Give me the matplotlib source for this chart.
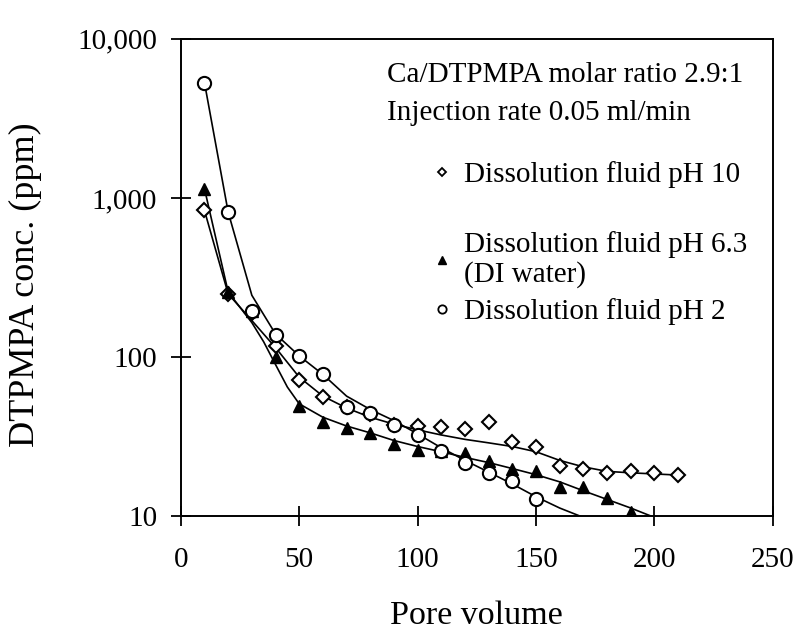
import matplotlib
matplotlib.use('Agg')
import matplotlib.pyplot as plt
from matplotlib.lines import Line2D

plt.rcParams['font.family'] = ['Liberation Serif', 'DejaVu Serif']

# measured points
x_ph10 = [10, 20, 30, 40, 50, 60, 70, 80, 90, 100, 110, 120, 130, 140, 150, 160, 170, 180, 190, 200, 210]
y_ph10 = [835, 250, 190, 117, 72, 56, 49, 44, 37.5, 36.8, 36.5, 35.5, 39, 29.2, 27.5, 20.8, 19.8, 18.7, 19.4, 18.7, 18.1]

x_ph63 = [10, 20, 30, 40, 50, 60, 70, 80, 90, 100, 110, 120, 130, 140, 150, 160, 170, 180, 190]
y_ph63 = [1145, 257, 195, 100, 49.3, 39, 36, 33.5, 28.7, 26, 25.6, 25, 22.2, 19.8, 19.2, 15.4, 15.4, 13, 10.7]

x_ph2 = [10, 20, 30, 40, 50, 60, 70, 80, 90, 100, 110, 120, 130, 140, 150]
y_ph2 = [5300, 816, 195, 137, 102, 78, 49, 44.7, 37.4, 32.6, 25.6, 21.6, 18.7, 16.6, 12.8]

# fitted curves
fit_x_ph10 = [10, 20, 30, 40, 50, 60, 70, 80, 90, 100, 110, 120, 130, 140, 150, 160, 170, 180, 190, 200, 210]
fit_y_ph10 = [835, 250, 170, 115, 75, 57, 48, 42, 38, 35, 32.5, 30.5, 29, 27.5, 25.5, 22.5, 20.5, 19.2, 18.8, 18.5, 18.2]

fit_x_ph63 = [10, 20, 30, 35, 40, 45, 50, 60, 70, 80, 90, 100, 110, 120, 130, 140, 150, 160, 170, 180, 190, 199]
fit_y_ph63 = [1145, 257, 165, 125, 90, 65, 51, 42, 37, 33.5, 30, 27.5, 25.5, 23.5, 21.8, 20, 18.3, 16.5, 14.5, 12.8, 11.3, 10]

fit_x_ph2 = [10, 20, 30, 40, 50, 60, 70, 80, 90, 100, 110, 120, 130, 140, 150, 160, 169]
fit_y_ph2 = [5300, 816, 245, 140, 102, 78, 57, 47, 40, 33, 27, 22.5, 19, 16, 13.3, 11.3, 10]

y_ticks = [10, 100, 1000, 10000]
y_tick_labels = ['10', '100', '1,000', '10,000']
x_ticks = [0, 50, 100, 150, 200, 250]

fig = plt.figure(figsize=(8, 6.31), dpi=100)
ax = fig.add_axes([0.226, 0.1815, 0.74, 0.757])

lw = 1.2
ax.plot(fit_x_ph10, fit_y_ph10, color='black', lw=lw)
ax.plot(fit_x_ph63, fit_y_ph63, color='black', lw=lw)
ax.plot(fit_x_ph2, fit_y_ph2, color='black', lw=lw)

ax.plot(x_ph10, y_ph10, ls='none', marker='D', ms=7, mfc='white', mec='black', mew=1.5)
ax.plot(x_ph63, y_ph63, ls='none', marker='^', ms=9, mfc='black', mec='black')
ax.plot(x_ph2, y_ph2, ls='none', marker='o', ms=9.5, mfc='white', mec='black', mew=1.5)

ax.set_yscale('log')
ax.set_xlim(0, 250)
ax.set_ylim(10, 10000)
ax.set_yticks(y_ticks)
ax.set_yticklabels(y_tick_labels)
ax.set_xticks(x_ticks)
ax.minorticks_off()
ax.tick_params(direction='inout', length=14, width=1.3, labelsize=21, pad=10)
ax.tick_params(axis='x', pad=15)
for s in ax.spines.values():
    s.set_linewidth(1.4)

ax.set_xlabel('Pore volume', fontsize=24.5, labelpad=20)
ax.set_ylabel('DTPMPA conc. (ppm)', fontsize=26)
ax.yaxis.set_label_coords(-0.235, 0.485)

ax.text(0.348, 0.925, 'Ca/DTPMPA molar ratio 2.9:1', transform=ax.transAxes,
        fontsize=21, va='center', ha='left')
ax.text(0.348, 0.845, 'Injection rate 0.05 ml/min', transform=ax.transAxes,
        fontsize=21, va='center', ha='left')

h10 = Line2D([], [], ls='none', marker='D', ms=4, mfc='white', mec='black', mew=1.3)
h63 = Line2D([], [], ls='none', marker='^', ms=6, mfc='black', mec='black')
h2 = Line2D([], [], ls='none', marker='o', ms=6, mfc='white', mec='black', mew=1.3)

leg1 = ax.legend([h10], ['Dissolution fluid pH 10'], loc='center left',
                 bbox_to_anchor=(0.426, 0.715), frameon=False, fontsize=21,
                 handlelength=0.6, handletextpad=0.45, borderpad=0, borderaxespad=0)
ax.add_artist(leg1)
leg2 = ax.legend([h63, h2], ['Dissolution fluid pH 6.3\n(DI water)', 'Dissolution fluid pH 2'],
                 loc='upper left', bbox_to_anchor=(0.426, 0.597), frameon=False, fontsize=21,
                 handlelength=0.6, handletextpad=0.45, borderpad=0, borderaxespad=0,
                 labelspacing=0.35)
for t in leg2.get_texts():
    t.set_linespacing(1.15)

fig.savefig('out.png', dpi=100)
